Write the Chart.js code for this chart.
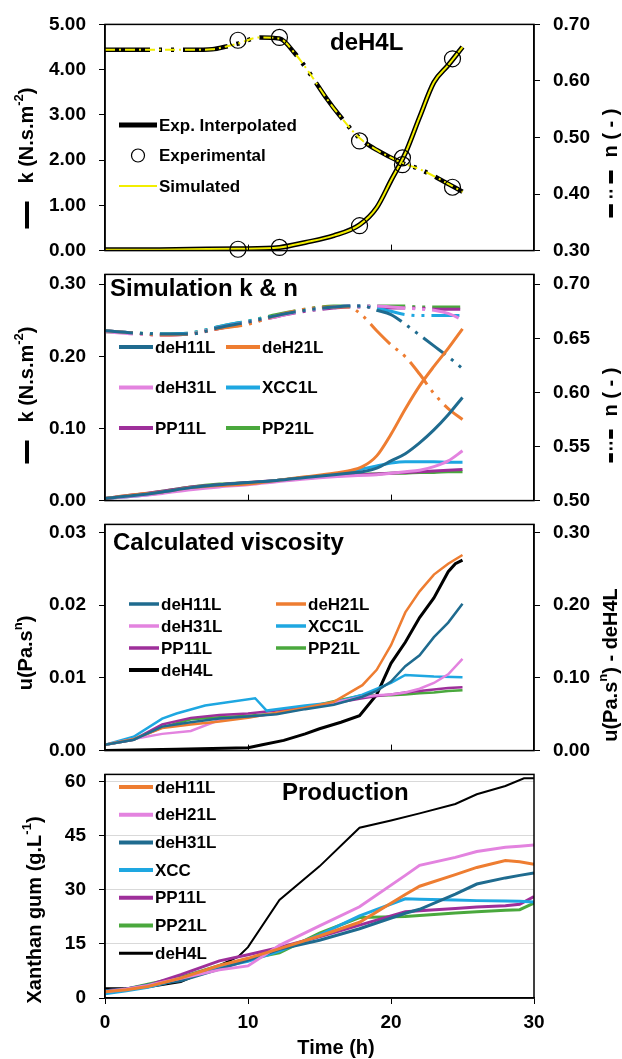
<!DOCTYPE html>
<html>
<head>
<meta charset="utf-8">
<script src="https://cdn.jsdelivr.net/npm/chart.js@4.4.1/dist/chart.umd.min.js"></script>
<style>
  body { margin: 0; background: #fff; width: 622px; height: 1059px; position: relative; overflow: hidden; }
  canvas { position: absolute; left: 0; }
</style>
</head>
<body>
<canvas id="c1" width="622" height="275" style="top:0px"></canvas>
<canvas id="c2" width="622" height="275" style="top:250px"></canvas>
<canvas id="c3" width="622" height="275" style="top:500px"></canvas>
<canvas id="c4" width="622" height="309" style="top:750px"></canvas>
<script>
//~~~~~~~~~~~~~~~~~~~~~~~~~~~~~~~~~~~~~~~~~~~~~~~~~~~~~~~~~~~~~~~~~~~~~~~~~
// DATA
// panel 1 - deH4L, k (left) and n (right)
const tK4 = [0, 3, 6, 9.3, 12.2, 14, 16, 17.8, 19, 20, 21, 22, 23, 24, 25];
const kInterp4 = [0.02, 0.02, 0.03, 0.04, 0.07, 0.18, 0.33, 0.57, 0.95, 1.55, 2.15, 2.95, 3.72, 4.1, 4.5];
const kSim4 = [0.02, 0.02, 0.03, 0.04, 0.07, 0.18, 0.33, 0.57, 0.95, 1.55, 2.15, 2.95, 3.72, 4.1, 4.5];
const tN4 = [0, 2, 4, 6, 7.5, 8.5, 9.3, 10.8, 12.2, 13.3, 14.3, 15.5, 16.4, 17.8, 19, 20.8, 22, 23.5, 25];
const nInterp4 = [0.655, 0.655, 0.655, 0.655, 0.656, 0.661, 0.666, 0.677, 0.675, 0.648, 0.614, 0.569, 0.539, 0.499, 0.478, 0.455, 0.444, 0.425, 0.404];
const nSim4 = [0.655, 0.655, 0.655, 0.655, 0.656, 0.661, 0.666, 0.677, 0.675, 0.648, 0.614, 0.569, 0.539, 0.499, 0.478, 0.455, 0.444, 0.425, 0.404];
const tExp4 = [9.3, 12.2, 17.8, 20.8, 24.3];
const kExp4 = [0.03, 0.07, 0.55, 2.05, 4.24];
const nExp4 = [0.672, 0.677, 0.494, 0.452, 0.412];

// panel 2 - simulation k & n
const t2 = [0, 2, 4, 6, 8, 10, 12, 14, 16, 17, 18, 19, 20, 21, 22, 23, 24, 25];
const kH11 = [0.003, 0.007, 0.012, 0.018, 0.022, 0.025, 0.028, 0.032, 0.036, 0.038, 0.040, 0.045, 0.055, 0.065, 0.080, 0.098, 0.119, 0.143];
const kH21 = [0.003, 0.008, 0.012, 0.018, 0.021, 0.023, 0.028, 0.033, 0.038, 0.041, 0.047, 0.062, 0.092, 0.127, 0.159, 0.186, 0.211, 0.238];
const kH31 = [0.003, 0.006, 0.010, 0.015, 0.019, 0.022, 0.026, 0.030, 0.033, 0.034, 0.035, 0.036, 0.038, 0.040, 0.042, 0.047, 0.055, 0.069];
const kXCC = [0.003, 0.006, 0.011, 0.017, 0.021, 0.024, 0.028, 0.032, 0.036, 0.040, 0.044, 0.048, 0.052, 0.054, 0.054, 0.054, 0.053, 0.053];
const kPP11 = [0.003, 0.008, 0.013, 0.019, 0.022, 0.025, 0.028, 0.031, 0.034, 0.035, 0.036, 0.037, 0.038, 0.039, 0.040, 0.041, 0.042, 0.043];
const kPP21 = [0.003, 0.007, 0.013, 0.019, 0.023, 0.025, 0.028, 0.032, 0.035, 0.036, 0.037, 0.037, 0.038, 0.038, 0.039, 0.039, 0.040, 0.040];
const nH11 = [0.657, 0.655, 0.654, 0.654, 0.660, 0.665, 0.671, 0.676, 0.679, 0.680, 0.680, 0.676, 0.672, 0.663, 0.653, 0.643, 0.633, 0.622];
const nH21 = [0.657, 0.655, 0.653, 0.654, 0.659, 0.663, 0.671, 0.677, 0.679, 0.679, 0.671, 0.657, 0.644, 0.633, 0.617, 0.599, 0.585, 0.575];
const nH31 = [0.656, 0.654, 0.653, 0.654, 0.660, 0.665, 0.670, 0.676, 0.679, 0.680, 0.680, 0.680, 0.679, 0.678, 0.677, 0.676, 0.673, 0.667];
const nXCC = [0.657, 0.655, 0.654, 0.655, 0.661, 0.666, 0.671, 0.676, 0.679, 0.680, 0.680, 0.678, 0.675, 0.672, 0.671, 0.671, 0.671, 0.671];
const nPP11 = [0.657, 0.655, 0.653, 0.654, 0.659, 0.664, 0.670, 0.675, 0.678, 0.679, 0.679, 0.679, 0.678, 0.678, 0.678, 0.677, 0.677, 0.677];
const nPP21 = [0.656, 0.655, 0.654, 0.655, 0.661, 0.666, 0.672, 0.677, 0.680, 0.680, 0.680, 0.680, 0.680, 0.680, 0.679, 0.679, 0.679, 0.679];

// panel 3 - calculated viscosity
const t3 = [0, 2, 4, 6, 8, 10, 12, 14, 16, 18, 19, 20, 21, 22, 23, 24, 25];
const uH11 = [0.0008, 0.0015, 0.0033, 0.0039, 0.0044, 0.0047, 0.0050, 0.0057, 0.0063, 0.0074, 0.0082, 0.0095, 0.0116, 0.0131, 0.0156, 0.0176, 0.0202];
const uH21 = [0.0008, 0.0016, 0.0031, 0.0036, 0.0040, 0.0045, 0.0052, 0.0059, 0.0067, 0.0090, 0.0111, 0.0145, 0.0190, 0.0219, 0.0242, 0.0257, 0.0269];
const uH31 = [0.0008, 0.0016, 0.0023, 0.0027, 0.0042, 0.0046, 0.0051, 0.0058, 0.0066, 0.0074, 0.0076, 0.0077, 0.0080, 0.0085, 0.0093, 0.0105, 0.0126];
const uPP11 = [0.0008, 0.0015, 0.0036, 0.0045, 0.0049, 0.0051, 0.0055, 0.0060, 0.0065, 0.0072, 0.0075, 0.0077, 0.0080, 0.0082, 0.0084, 0.0086, 0.0087];
const uPP21 = [0.0008, 0.0015, 0.0032, 0.0043, 0.0046, 0.0048, 0.0051, 0.0059, 0.0068, 0.0076, 0.0076, 0.0076, 0.0077, 0.0079, 0.0080, 0.0082, 0.0083];
const tXCC3 = [0, 2, 4, 5, 7, 10.5, 11.3, 14, 16, 18, 20, 21, 23, 25];
const uXCC = [0.0008, 0.0019, 0.0044, 0.0051, 0.0062, 0.0072, 0.0055, 0.0062, 0.0066, 0.0077, 0.0093, 0.0104, 0.0102, 0.0101];
const tH4_3 = [0, 5, 10, 11, 12.5, 14, 15, 16.5, 17.8, 19, 20, 21, 22, 23, 24, 24.5, 25];
const uH4 = [0, 0.002, 0.004, 0.008, 0.014, 0.023, 0.030, 0.039, 0.048, 0.077, 0.120, 0.149, 0.183, 0.210, 0.246, 0.257, 0.262];

// panel 4 - production
const t4 = [0, 1.5, 3, 5.3, 8, 10, 12.2, 15, 17.8, 21, 22, 24.5, 26, 28, 29, 30];
const pH11 = [1.7, 2.3, 3.2, 5.5, 9.0, 11.0, 13.7, 17.2, 21.0, 28.7, 31.0, 34.2, 36.2, 38.1, 37.8, 37.1];
const pH21 = [1.7, 2.5, 3.5, 5.5, 7.8, 8.9, 14.6, 20.0, 25.3, 34.0, 36.8, 39.0, 40.6, 41.8, 42.1, 42.4];
const pH31 = [2.0, 2.5, 3.6, 4.8, 8.0, 10.5, 13.5, 16.0, 19.2, 23.5, 24.6, 28.8, 31.6, 33.3, 34.0, 34.7];
const pXCC = [1.2, 2.0, 3.0, 5.2, 8.5, 10.2, 13.0, 17.5, 22.8, 27.5, 27.4, 27.2, 27.0, 26.9, 26.8, 26.6];
const pPP11 = [2.0, 2.5, 3.5, 6.5, 10.3, 12.0, 14.0, 17.0, 20.2, 23.9, 24.2, 24.8, 25.2, 25.6, 26.0, 28.1];
const pPP21 = [1.5, 2.5, 3.8, 5.8, 9.0, 10.8, 12.5, 18.0, 22.3, 22.6, 22.9, 23.6, 23.9, 24.3, 24.5, 26.3];
const tH4_4 = [0, 2, 3, 5.3, 7, 9.3, 10, 12.2, 15, 17.8, 20, 22, 24.5, 26, 28, 29.3, 30];
const pH4 = [2.7, 2.7, 3.0, 4.4, 7.3, 11.4, 14.1, 27.2, 36.5, 47.2, 49.2, 51.2, 53.8, 56.5, 58.8, 60.9, 60.9];

// tick labels
const xTicks = [0, 10, 20, 30];
const kTicks1 = [0, 1, 2, 3, 4, 5];
const nTicks1 = [0.3, 0.4, 0.5, 0.6, 0.7];
const kTicks2 = [0, 0.1, 0.2, 0.3];
const nTicks2 = [0.5, 0.55, 0.6, 0.65, 0.7];
const uTicks = [0, 0.01, 0.02, 0.03];
const uTicksR = [0, 0.1, 0.2, 0.3];
const pTicks = [0, 15, 30, 45, 60];

//~~~~~~~~~~~~~~~~~~~~~~~~~~~~~~~~~~~~~~~~~~~~~~~~~~~~~~~~~~~~~~~~~~~~~~~~~
// STYLE
const FONT = "'Liberation Sans', Arial, sans-serif";
const TEAL = "#1f6b8f", ORANGE = "#ee7d31", PINK = "#e383df", BLUE = "#1ea7e1",
  PURPLE = "#9e2f9a", GREEN = "#4aa83d", YELLOW = "#f2ee00";
const NDASH = [28, 7, 3, 7, 3, 7];

Chart.defaults.font.family = FONT;
Chart.defaults.font.weight = "bold";
Chart.defaults.font.size = 19;
Chart.defaults.color = "#000";

const line = (label, xs, ys, color, width, axis, extra) =>
  Object.assign(
    {
      label: label,
      data: xs.map((x, i) => ({ x: x, y: ys[i] })),
      borderColor: color,
      backgroundColor: color,
      borderWidth: width,
      pointRadius: 0,
      yAxisID: axis,
      fill: false,
      tension: 0,
    },
    extra || {}
  );

const yScale = (pos, min, max, vals, dec, gridOn) => ({
  type: "linear",
  position: pos,
  min: min,
  max: max,
  afterBuildTicks: (s) => {
    s.ticks = vals.map((v) => ({ value: v }));
  },
  afterFit: (s) => {
    s.width = pos == "left" ? 105 : 88;
  },
  ticks: { padding: 13, callback: (v) => Number(v).toFixed(dec) },
  grid: {
    drawOnChartArea: !!gridOn,
    color: gridOn ? "#d9d9d9" : "#000",
    tickColor: "#000",
    tickLength: 6,
  },
  border: { display: true, color: "#000", width: 1.5 },
});

const hiddenX = { type: "linear", min: 0, max: 30, display: false };

//~~~~~~~~~~~~~~~~~~~~~~~~~~~~~~~~~~~~~~~~~~~~~~~~~~~~~~~~~~~~~~~~~~~~~~~~~
// Helper drawing: text with superscripts (parts starting with ^)
const drawRich = (ctx, parts, x0, size) => {
  let x = x0;
  parts.forEach((p) => {
    if (p[0] == "^") {
      ctx.font = "bold " + Math.round(size * 0.65) + "px " + FONT;
      ctx.fillText(p.slice(1), x, -size * 0.38);
      x += ctx.measureText(p.slice(1)).width;
    } else {
      ctx.font = "bold " + size + "px " + FONT;
      ctx.fillText(p, x, 0);
      x += ctx.measureText(p).width;
    }
  });
  return x - x0;
};

const richWidth = (ctx, parts, size) => {
  let w = 0;
  parts.forEach((p) => {
    if (p[0] == "^") {
      ctx.font = "bold " + Math.round(size * 0.65) + "px " + FONT;
      w += ctx.measureText(p.slice(1)).width;
    } else {
      ctx.font = "bold " + size + "px " + FONT;
      w += ctx.measureText(p).width;
    }
  });
  return w;
};

// symbol in front of an axis title, drawn along +x
const drawSym = (ctx, type, len) => {
  ctx.strokeStyle = "#000";
  ctx.lineWidth = 4;
  ctx.beginPath();
  if (type == "solid") {
    ctx.moveTo(0, 0);
    ctx.lineTo(len, 0);
  } else {
    const d = len * 0.28;
    ctx.moveTo(0, 0);
    ctx.lineTo(d, 0);
    ctx.moveTo(len - d, 0);
    ctx.lineTo(len, 0);
  }
  ctx.stroke();
  if (type == "dashdot") {
    ctx.fillStyle = "#000";
    const m = len / 2;
    ctx.fillRect(m - 4, -1.5, 2.5, 3);
    ctx.fillRect(m + 1.5, -1.5, 2.5, 3);
  }
};

const sideTitle = (ctx, s) => {
  const size = 20;
  const symLen = s.sym ? s.symLen + s.gap : 0;
  const w = symLen + richWidth(ctx, s.text, size);
  ctx.save();
  ctx.translate(s.x, s.cy + w / 2);
  ctx.rotate(-Math.PI / 2);
  ctx.textBaseline = "middle";
  ctx.textAlign = "left";
  ctx.fillStyle = "#000";
  if (s.sym) drawSym(ctx, s.sym, s.symLen);
  ctx.fillStyle = "#000";
  drawRich(ctx, s.text, symLen, size);
  ctx.restore();
};

const drawLegend = (chart, ctx, lg) => {
  ctx.textBaseline = "middle";
  ctx.textAlign = "left";
  lg.items.forEach((idx, k) => {
    const ds = chart.data.datasets[idx];
    const col = k % lg.cols;
    const row = Math.floor(k / lg.cols);
    const x = lg.x + col * lg.colW;
    const y = lg.y + row * lg.rowH;
    if (ds.showLine === false) {
      ctx.strokeStyle = "#000";
      ctx.lineWidth = 1.2;
      ctx.beginPath();
      ctx.arc(x + lg.len / 2, y, 6.5, 0, Math.PI * 2);
      ctx.stroke();
    } else {
      ctx.strokeStyle = ds.borderColor;
      ctx.lineWidth = ds.borderWidth + lg.extra;
      ctx.beginPath();
      ctx.moveTo(x, y);
      ctx.lineTo(x + lg.len, y);
      ctx.stroke();
    }
    ctx.fillStyle = "#000";
    ctx.font = "bold 17px " + FONT;
    ctx.fillText(ds.label, x + lg.len + 2, y + 1);
  });
};

const decor = {
  id: "decor",
  afterDraw(chart, args, o) {
    const ctx = chart.ctx;
    const a = chart.chartArea;
    ctx.save();
    ctx.strokeStyle = "#000";
    ctx.lineWidth = 1.5;
    ctx.strokeRect(a.left, a.top, a.right - a.left, a.bottom - a.top);
    if (o.innerTicks) {
      const xs = chart.scales.x;
      ctx.beginPath();
      o.innerTicks.forEach((v) => {
        const px = Math.round(xs.getPixelForValue(v)) + 0.5;
        ctx.moveTo(px, a.bottom);
        ctx.lineTo(px, a.bottom - 6);
      });
      ctx.lineWidth = 1;
      ctx.stroke();
    }
    if (o.title) {
      ctx.fillStyle = "#000";
      ctx.font = "bold 24px " + FONT;
      ctx.textBaseline = "middle";
      ctx.textAlign = "left";
      ctx.fillText(o.title.text, o.title.x, o.title.y);
    }
    (o.sides || []).forEach((s) => sideTitle(ctx, s));
    if (o.legend) drawLegend(chart, ctx, o.legend);
    if (o.xTitle) {
      ctx.fillStyle = "#000";
      ctx.font = "bold 20px " + FONT;
      ctx.textBaseline = "middle";
      ctx.textAlign = "center";
      ctx.fillText(o.xTitle.text, o.xTitle.x, o.xTitle.y);
    }
    ctx.restore();
  },
};

const baseOptions = (padding, scales, decorOpts) => ({
  responsive: false,
  animation: false,
  events: [],
  layout: { padding: padding },
  scales: scales,
  plugins: { legend: { display: false }, tooltip: { enabled: false }, decor: decorOpts },
});

const kTitle = ["k (N.s.m", "^-2", ")"];
const nTitle = ["n ( - )"];

//~~~~~~~~~~~~~~~~~~~~~~~~~~~~~~~~~~~~~~~~~~~~~~~~~~~~~~~~~~~~~~~~~~~~~~~~~
// PANEL 1 - deH4L
const smooth = { cubicInterpolationMode: "monotone" };
new Chart(document.getElementById("c1"), {
  type: "line",
  data: {
    datasets: [
      line("Experimental", tExp4, kExp4, "#000", 1.2, "y", {
        showLine: false, pointRadius: 8, pointBorderColor: "#000", pointBorderWidth: 1.2,
        pointBackgroundColor: "rgba(0,0,0,0)", clip: false,
      }),
      line("Experimental n", tExp4, nExp4, "#000", 1.2, "y2", {
        showLine: false, pointRadius: 8, pointBorderColor: "#000", pointBorderWidth: 1.2,
        pointBackgroundColor: "rgba(0,0,0,0)", clip: false,
      }),
      line("Simulated", tK4, kSim4, YELLOW, 2, "y", smooth),
      line("Simulated n", tN4, nSim4, YELLOW, 2, "y2", Object.assign({ borderDash: [10, 4, 2, 4] }, smooth)),
      line("Exp. Interpolated", tK4, kInterp4, "#000", 5, "y", smooth),
      line("Exp. Interpolated n", tN4, nInterp4, "#000", 4.5, "y2", Object.assign({ borderDash: [45, 9, 3, 9, 3, 9] }, smooth)),
    ],
  },
  options: baseOptions(
    { top: 20, bottom: 23, left: 0, right: 0 },
    { x: hiddenX, y: yScale("left", 0, 5, kTicks1, 2), y2: yScale("right", 0.3, 0.7, nTicks1, 2) },
    {
      innerTicks: [10, 20],
      title: { text: "deH4L", x: 330, y: 43 },
      sides: [
        { x: 27, cy: 158, text: kTitle, sym: "solid", symLen: 27, gap: 18 },
        { x: 611, cy: 163, text: nTitle, sym: "dashdot", symLen: 47, gap: 13 },
      ],
      legend: { items: [4, 0, 2], x: 119, y: 125, cols: 1, colW: 0, rowH: 30.5, len: 38, extra: 0 },
    }
  ),
  plugins: [decor],
});

//~~~~~~~~~~~~~~~~~~~~~~~~~~~~~~~~~~~~~~~~~~~~~~~~~~~~~~~~~~~~~~~~~~~~~~~~~
// PANEL 2 - simulation k & n  (canvas starts at y=250)
const dashN = Object.assign({ borderDash: NDASH }, smooth);
new Chart(document.getElementById("c2"), {
  type: "line",
  data: {
    datasets: [
      line("deH11L", t2, kH11, TEAL, 3, "y", smooth),
      line("deH21L", t2, kH21, ORANGE, 3, "y", smooth),
      line("deH31L", t2, kH31, PINK, 3, "y", smooth),
      line("XCC1L", t2, kXCC, BLUE, 3, "y", smooth),
      line("PP11L", t2, kPP11, PURPLE, 3, "y", smooth),
      line("PP21L", t2, kPP21, GREEN, 3, "y", smooth),
      line("deH11L n", t2, nH11, TEAL, 3, "y2", dashN),
      line("deH21L n", t2, nH21, ORANGE, 3, "y2", dashN),
      line("deH31L n", t2, nH31, PINK, 3, "y2", dashN),
      line("XCC1L n", t2, nXCC, BLUE, 3, "y2", dashN),
      line("PP11L n", t2, nPP11, PURPLE, 3, "y2", dashN),
      line("PP21L n", t2, nPP21, GREEN, 3, "y2", dashN),
    ],
  },
  options: baseOptions(
    { top: 23, bottom: 22, left: 0, right: 0 },
    { x: hiddenX, y: yScale("left", 0, 0.3136, kTicks2, 2), y2: yScale("right", 0.5, 0.7091, nTicks2, 2) },
    {
      innerTicks: [10, 20],
      title: { text: "Simulation k & n", x: 110, y: 289 - 250 },
      sides: [
        { x: 27, cy: 395 - 250, text: kTitle, sym: "solid", symLen: 23, gap: 18 },
        { x: 611, cy: 415 - 250, text: nTitle, sym: "dashdot", symLen: 33, gap: 13 },
      ],
      legend: { items: [0, 1, 2, 3, 4, 5], x: 119, y: 347 - 250, cols: 2, colW: 107, rowH: 40.5, len: 34, extra: 1 },
    }
  ),
  plugins: [decor],
});

//~~~~~~~~~~~~~~~~~~~~~~~~~~~~~~~~~~~~~~~~~~~~~~~~~~~~~~~~~~~~~~~~~~~~~~~~~
// PANEL 3 - calculated viscosity  (canvas starts at y=500)
new Chart(document.getElementById("c3"), {
  type: "line",
  data: {
    datasets: [
      line("deH11L", t3, uH11, TEAL, 2.5, "y"),
      line("deH21L", t3, uH21, ORANGE, 2.5, "y"),
      line("deH31L", t3, uH31, PINK, 2.5, "y"),
      line("XCC1L", tXCC3, uXCC, BLUE, 2.5, "y"),
      line("PP11L", t3, uPP11, PURPLE, 2.5, "y"),
      line("PP21L", t3, uPP21, GREEN, 2.5, "y"),
      line("deH4L", tH4_3, uH4, "#000", 3, "y2"),
    ],
  },
  options: baseOptions(
    { top: 22, bottom: 23, left: 0, right: 0 },
    { x: hiddenX, y: yScale("left", 0, 0.0311, uTicks, 2), y2: yScale("right", 0, 0.311, uTicksR, 2) },
    {
      innerTicks: [10, 20],
      title: { text: "Calculated viscosity", x: 113, y: 543 - 500 },
      sides: [
        { x: 26, cy: 653 - 500, text: ["u(Pa.s", "^n", ")"] },
        { x: 611, cy: 665 - 500, text: ["u(Pa.s", "^n", ") - deH4L"] },
      ],
      legend: { items: [0, 1, 2, 3, 4, 5, 6], x: 129, y: 604 - 500, cols: 2, colW: 147, rowH: 22, len: 30, extra: 1 },
    }
  ),
  plugins: [decor],
});

//~~~~~~~~~~~~~~~~~~~~~~~~~~~~~~~~~~~~~~~~~~~~~~~~~~~~~~~~~~~~~~~~~~~~~~~~~
// PANEL 4 - production  (canvas starts at y=750)
new Chart(document.getElementById("c4"), {
  type: "line",
  data: {
    datasets: [
      line("deH11L", t4, pH11, ORANGE, 3, "y"),
      line("deH21L", t4, pH21, PINK, 3, "y"),
      line("deH31L", t4, pH31, TEAL, 3, "y"),
      line("XCC", t4, pXCC, BLUE, 3, "y"),
      line("PP11L", t4, pPP11, PURPLE, 3, "y"),
      line("PP21L", t4, pPP21, GREEN, 3, "y"),
      line("deH4L", tH4_4, pH4, "#000", 2, "y"),
    ],
  },
  options: baseOptions(
    { top: 23, bottom: 21, left: 0, right: 88 },
    {
      x: {
        type: "linear",
        min: 0,
        max: 30,
        afterBuildTicks: (s) => {
          s.ticks = xTicks.map((v) => ({ value: v }));
        },
        afterFit: (s) => {
          s.height = 40;
        },
        ticks: { padding: 7 },
        grid: { drawOnChartArea: false, color: "#000", tickLength: 6 },
        border: { display: true, color: "#000", width: 1.5 },
      },
      y: yScale("left", 0, 62, pTicks, 0, true),
    },
    {
      title: { text: "Production", x: 282, y: 793 - 750 },
      sides: [{ x: 35, cy: 910 - 750, text: ["Xanthan gum (g.L", "^-1", ")"] }],
      legend: { items: [0, 1, 2, 3, 4, 5, 6], x: 119, y: 787 - 750, cols: 1, colW: 0, rowH: 27.7, len: 34, extra: 1 },
      xTitle: { text: "Time (h)", x: 336, y: 1048 - 750 },
    }
  ),
  plugins: [decor],
});
</script>
</body>
</html>
